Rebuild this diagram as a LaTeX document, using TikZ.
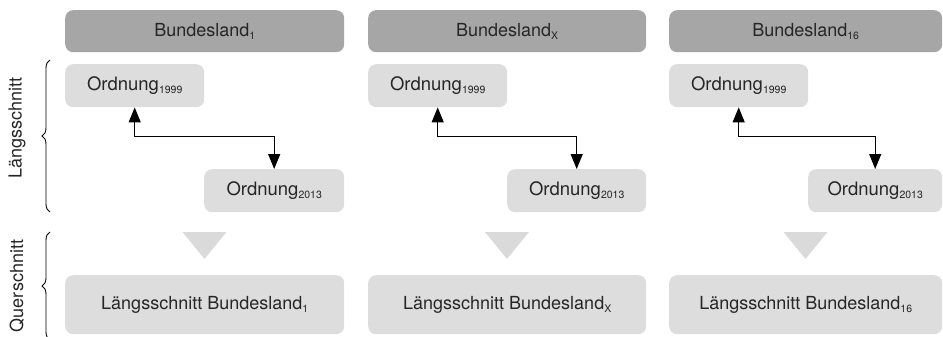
\documentclass[tikz,border=0pt]{standalone}
\usepackage{fontspec}
\setmainfont{TeX Gyre Heros}
\usetikzlibrary{arrows.meta,decorations.pathreplacing,calc}
\definecolor{hdr}{HTML}{A6A6A6}
\definecolor{lite}{HTML}{DDDDDD}
\definecolor{tri}{HTML}{DADADA}
\definecolor{txt}{HTML}{262626}
\newcommand\lsub[1]{\raisebox{-0.35ex}{\fontsize{10.5}{10}\selectfont #1}}
\tikzset{
  base/.style={rounded corners=8pt, inner sep=0pt, text=txt, anchor=north west,
    font=\fontsize{18}{20}\selectfont},
  hdrbox/.style={base, fill=hdr, minimum height=42pt},
  ordbox/.style={base, fill=lite, minimum height=43pt, font=\fontsize{18.5}{20}\selectfont},
  sumbox/.style={base, fill=lite, minimum height=59pt},
  conn/.style={line width=1.2pt, {Triangle[length=15pt,width=12pt]}-{Triangle[length=15pt,width=12pt]}},
  bracestyle/.style={decorate, decoration={brace, amplitude=8pt}, line width=0.9pt},
  sidelabel/.style={rotate=90, text=txt, font=\fontsize{18}{20}\selectfont, inner sep=0pt}
}
\begin{document}
\begin{tikzpicture}[x=1pt,y=-1pt]
\useasboundingbox (0,0) rectangle (943,337);
\foreach \L/\W/\M/\s/\i in {65/279/139/1/1, 368/278/139/X/2, 669/273/139/16/3}{
  \node[hdrbox, minimum width=\W pt] (h\i) at (\L,10) {Bundesland\lsub{\s}};
  \node[ordbox, minimum width=\M pt] (a\i) at (\L,64) {Ordnung\lsub{1999}};
  \pgfmathsetmacro\R{\W-\M}
  \node[ordbox, minimum width=\R pt] (b\i) at (\L+\M,169) {Ordnung\lsub{2013}};
  \node[sumbox, minimum width=\W pt] (q\i) at (\L,275) {Längsschnitt Bundesland\lsub{\s}};
  \draw[conn] (a\i.south) -- ++(0,29) -| (b\i.north);
  \pgfmathsetmacro\C{\L+\W/2}
  \fill[tri] (\C-22,232) -- (\C+22,232) -- (\C,259) -- cycle;
}
\coordinate (l1) at (50,212);
\coordinate (l2) at (50,60);
\coordinate (q1b) at (50,340);
\coordinate (q2b) at (50,232);
\draw[bracestyle] (l1) -- (l2);
\draw[bracestyle] (q1b) -- (q2b);
\node[sidelabel] (lab1) at (17,128) {Längsschnitt};
\node[sidelabel] (lab2) at (17,286) {Querschnitt};
\end{tikzpicture}
\end{document}
